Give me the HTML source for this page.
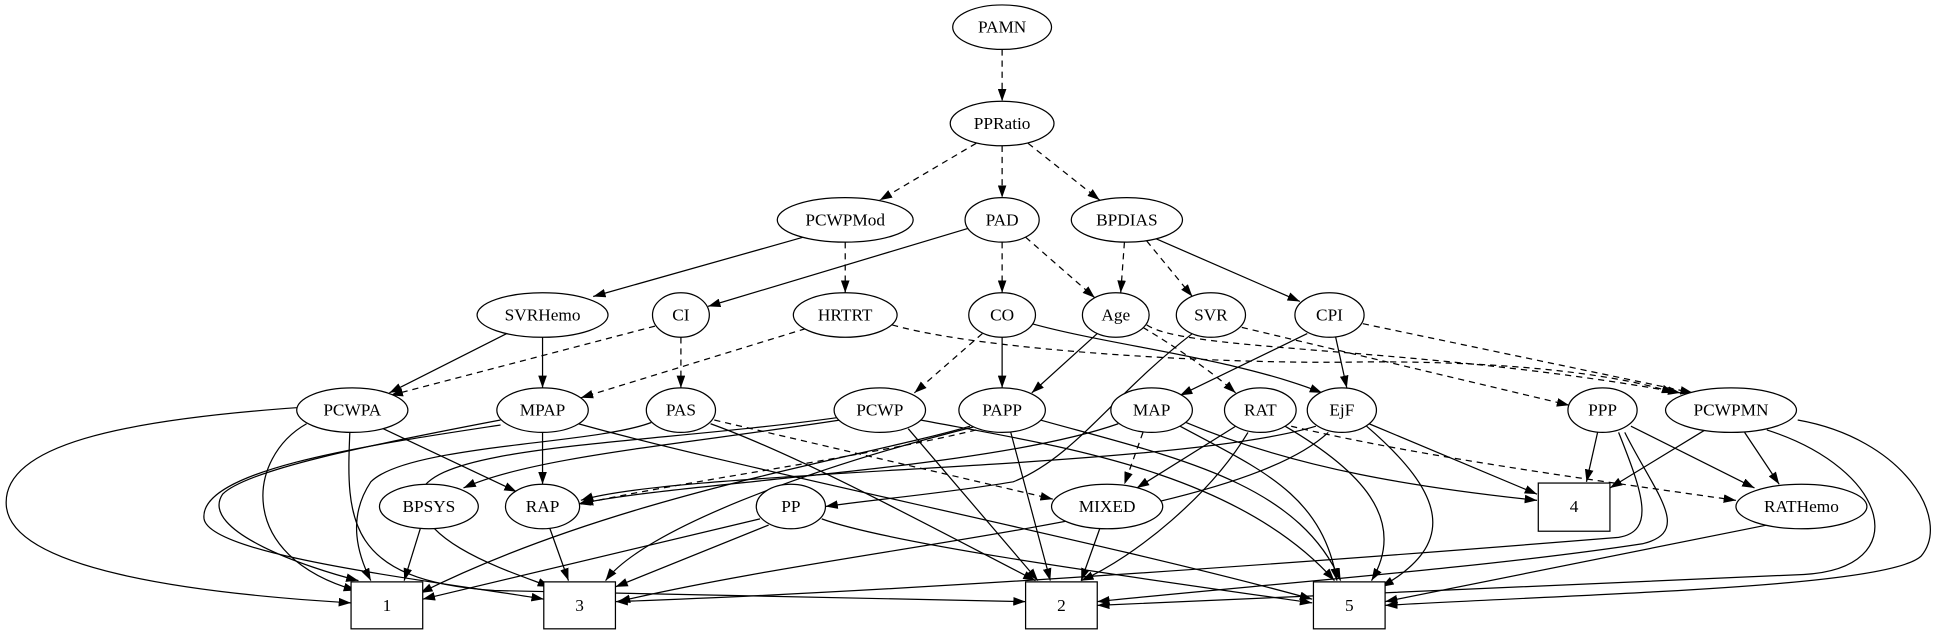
<!DOCTYPE html>
<html><head><meta charset="utf-8"><style>
html,body{margin:0;padding:0;background:#fff;}
svg{display:block;}
text{font-family:"Liberation Serif",serif;font-size:14px;text-anchor:middle;dominant-baseline:central;fill:#000;}
.e{fill:none;stroke:#000;stroke-width:1;}
.d{stroke-dasharray:5,4;}
.n{fill:#fff;stroke:#000;stroke-width:1;}
</style></head><body>
<svg width="1940" height="635" viewBox="0 0 1570 514" xmlns="http://www.w3.org/2000/svg">
<defs><marker id="a" markerWidth="10" markerHeight="7" refX="10" refY="3.5" orient="auto" markerUnits="userSpaceOnUse"><path d="M0,0 L10,3.5 L0,7 z" fill="#000"/></marker></defs>
<g class="e" marker-end="url(#a)">
<path class="d" d="M811,40 L811,82"/>
<path class="d" d="M790,116 L712,162"/>
<path class="d" d="M811,118 L811,160"/>
<path class="d" d="M832,116 L890,162"/>
<path class="d" d="M684,196 L684,237"/>
<path class="d" d="M811,196 L811,237"/>
<path class="d" d="M830,192 L886,241"/>
<path class="d" d="M910,196 L907,237"/>
<path class="d" d="M928,195 L965,240"/>
<path class="d" d="M530,264 L316,320"/>
<path class="d" d="M551,273 L551,314"/>
<path class="d" d="M652,266 L470,322"/>
<path class="d" d="M722,263 C800,285 1000,295 1100,293 C1200,292 1300,300 1355,318"/>
<path class="d" d="M795,270 L740,318"/>
<path class="d" d="M925,265 C950,280 980,300 1000,318"/>
<path class="d" d="M928,263 C960,285 1150,280 1360,318"/>
<path class="d" d="M1005,265 L1270,328"/>
<path class="d" d="M1103,262 L1370,318"/>
<path class="d" d="M578,340 L852,404"/>
<path class="d" d="M925,350 L910,392"/>
<path class="d" d="M790,348 C700,370 550,390 470,408"/>
<path class="d" d="M1045,345 C1150,370 1300,390 1405,405"/>
<path d="M783,185 L573,248"/>
<path d="M650,192 L480,240"/>
<path d="M935,193 L1052,244"/>
<path d="M410,270 L315,318"/>
<path d="M439,273 L439,314"/>
<path d="M811,273 L811,314"/>
<path d="M835,262 C900,280 1000,290 1070,318"/>
<path d="M888,270 L835,318"/>
<path d="M965,270 C900,320 870,370 820,390 C760,400 700,405 668,410"/>
<path d="M1058,270 L955,320"/>
<path d="M1081,273 L1090,314"/>
<path d="M310,347 L418,398"/>
<path d="M240,330 C100,340 0,360 5,410 C10,460 150,480 284,488"/>
<path d="M248,343 C200,370 190,450 288,478"/>
<path d="M283,350 C280,420 280,470 400,478 L830,487"/>
<path d="M439,350 L439,392"/>
<path d="M468,343 C600,380 900,440 1062,485"/>
<path d="M405,340 C300,360 200,380 180,400 C160,430 250,460 290,470"/>
<path d="M405,344 C300,360 160,380 165,420 C170,450 350,470 440,485"/>
<path d="M575,343 C650,370 760,430 838,470"/>
<path d="M527,342 C480,360 330,360 300,390 C280,420 290,450 300,470"/>
<path d="M680,340 C550,360 430,370 375,395"/>
<path d="M735,347 L840,470"/>
<path d="M745,340 C850,360 1000,380 1080,470"/>
<path d="M678,338 C520,360 350,360 340,400 C335,440 420,465 445,475"/>
<path d="M818,350 L850,470"/>
<path d="M842,340 C950,370 1050,390 1085,470"/>
<path d="M785,345 C700,370 500,400 340,480"/>
<path d="M790,345 C650,380 520,430 490,470"/>
<path d="M960,342 C1050,380 1150,395 1244,405"/>
<path d="M955,345 C1020,380 1070,400 1082,470"/>
<path d="M905,343 C800,380 550,390 468,408"/>
<path d="M1000,345 L920,395"/>
<path d="M1010,350 C980,400 920,450 875,470"/>
<path d="M1040,345 C1100,380 1140,420 1110,470"/>
<path d="M1108,343 L1244,400"/>
<path d="M1106,345 C1170,400 1180,440 1118,475"/>
<path d="M1075,350 C1000,420 700,440 500,487"/>
<path d="M1065,345 C950,380 550,380 470,405"/>
<path d="M1293,350 L1284,390"/>
<path d="M1320,345 L1420,395"/>
<path d="M1315,350 C1340,400 1370,430 1330,440 C1200,460 1000,475 888,487"/>
<path d="M1310,350 C1330,400 1340,430 1310,435 C1000,460 700,480 498,487"/>
<path d="M1380,348 L1303,395"/>
<path d="M1412,350 L1440,392"/>
<path d="M1455,340 C1540,355 1580,420 1555,450 C1530,475 1300,480 1121,490"/>
<path d="M1430,348 C1530,380 1550,460 1460,465 L888,490"/>
<path d="M1430,425 L1121,487"/>
<path d="M340,428 L327,470"/>
<path d="M445,428 L460,470"/>
<path d="M615,420 L342,485"/>
<path d="M622,425 L498,475"/>
<path d="M665,420 C720,440 900,465 1062,488"/>
<path d="M890,428 L875,470"/>
</g>
<g class="n">
<ellipse cx="811" cy="22" rx="40" ry="18"/>
<ellipse cx="811" cy="100" rx="42" ry="18"/>
<ellipse cx="684" cy="178" rx="55" ry="18"/>
<ellipse cx="811" cy="178" rx="30" ry="18"/>
<ellipse cx="912" cy="178" rx="45" ry="18"/>
<ellipse cx="439" cy="255" rx="53" ry="18"/>
<ellipse cx="551" cy="255" rx="23" ry="18"/>
<ellipse cx="684" cy="255" rx="42" ry="18"/>
<ellipse cx="811" cy="255" rx="27" ry="18"/>
<ellipse cx="903" cy="255" rx="27" ry="18"/>
<ellipse cx="980" cy="255" rx="28" ry="18"/>
<ellipse cx="1076" cy="255" rx="28" ry="18"/>
<ellipse cx="285" cy="332" rx="45" ry="18"/>
<ellipse cx="439" cy="332" rx="37" ry="18"/>
<ellipse cx="551" cy="332" rx="28" ry="18"/>
<ellipse cx="712" cy="332" rx="37" ry="18"/>
<ellipse cx="811" cy="332" rx="35" ry="18"/>
<ellipse cx="932" cy="332" rx="33" ry="18"/>
<ellipse cx="1020" cy="332" rx="29" ry="18"/>
<ellipse cx="1086" cy="332" rx="28" ry="18"/>
<ellipse cx="1297" cy="332" rx="28" ry="18"/>
<ellipse cx="1401" cy="332" rx="53" ry="18"/>
<ellipse cx="347" cy="410" rx="40" ry="18"/>
<ellipse cx="439" cy="410" rx="30" ry="18"/>
<ellipse cx="640" cy="410" rx="28" ry="18"/>
<ellipse cx="896" cy="410" rx="45" ry="18"/>
<ellipse cx="1458" cy="410" rx="53" ry="18"/>
<rect x="1245" y="391" width="58" height="39"/>
<rect x="284" y="471" width="58" height="38"/>
<rect x="440" y="471" width="58" height="38"/>
<rect x="830" y="471" width="58" height="38"/>
<rect x="1063" y="471" width="58" height="38"/>
</g>
<g>
<text x="811" y="22">PAMN</text>
<text x="811" y="100">PPRatio</text>
<text x="684" y="178">PCWPMod</text>
<text x="811" y="178">PAD</text>
<text x="912" y="178">BPDIAS</text>
<text x="439" y="255">SVRHemo</text>
<text x="551" y="255">CI</text>
<text x="684" y="255">HRTRT</text>
<text x="811" y="255">CO</text>
<text x="903" y="255">Age</text>
<text x="980" y="255">SVR</text>
<text x="1076" y="255">CPI</text>
<text x="285" y="332">PCWPA</text>
<text x="439" y="332">MPAP</text>
<text x="551" y="332">PAS</text>
<text x="712" y="332">PCWP</text>
<text x="811" y="332">PAPP</text>
<text x="932" y="332">MAP</text>
<text x="1020" y="332">RAT</text>
<text x="1086" y="332">EjF</text>
<text x="1297" y="332">PPP</text>
<text x="1401" y="332">PCWPMN</text>
<text x="347" y="410">BPSYS</text>
<text x="439" y="410">RAP</text>
<text x="640" y="410">PP</text>
<text x="896" y="410">MIXED</text>
<text x="1458" y="410">RATHemo</text>
<text x="1274" y="410">4</text>
<text x="313" y="490">1</text>
<text x="469" y="490">3</text>
<text x="859" y="490">2</text>
<text x="1092" y="490">5</text>
</g>
</svg>
</body></html>
